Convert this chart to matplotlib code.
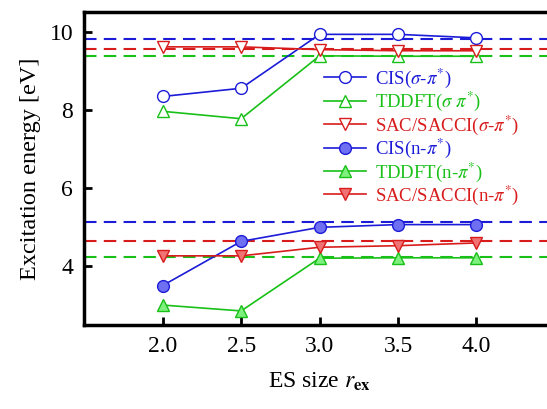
import matplotlib
matplotlib.use("Agg")
import matplotlib.pyplot as plt

plt.rcParams['font.family'] = ['Liberation Serif', 'DejaVu Serif']
plt.rcParams['mathtext.fontset'] = 'stix'

# ES size values
r_ex = [2.0, 2.5, 3.0, 3.5, 4.0]

# sigma-pi* excitations
cis_sigma = [8.35, 8.56, 9.94, 9.94, 9.85]
tddft_sigma = [7.97, 7.78, 9.39, 9.38, 9.38]
sac_sigma = [9.62, 9.62, 9.55, 9.52, 9.52]

# n-pi* excitations
cis_n = [3.51, 4.64, 5.00, 5.07, 5.07]
tddft_n = [3.01, 2.86, 4.21, 4.22, 4.22]
sac_n = [4.27, 4.27, 4.49, 4.53, 4.60]

# reference levels (dashed)
ref_sigma = {"cis": 9.81, "sac": 9.56, "tddft": 9.39}
ref_n = {"cis": 5.14, "sac": 4.65, "tddft": 4.25}

labels = [r"CIS($\sigma$-$\pi^{*}$)", r"TDDFT($\sigma$ $\pi^{*}$)", r"SAC/SACCI($\sigma$-$\pi^{*}$)",
          r"CIS(n-$\pi^{*}$)", r"TDDFT(n-$\pi^{*}$)", r"SAC/SACCI(n-$\pi^{*}$)"]

blue, green, red = "#1c1cd8", "#18c018", "#d81c1c"
blue_f, green_f, red_f = "#6f6ff2", "#7ef07e", "#f07272"

fig = plt.figure(figsize=(5.47, 4.09), dpi=100)
ax = fig.add_axes([0.154, 0.2054, 0.8605, 0.766])

# dashed reference lines
for lv, c in [(ref_sigma["cis"], blue), (ref_sigma["sac"], red), (ref_sigma["tddft"], green),
              (ref_n["cis"], blue), (ref_n["sac"], red), (ref_n["tddft"], green)]:
    ax.axhline(lv, color=c, linestyle=(0, (6, 3.5)), linewidth=1.5, zorder=1)

ms = 8.5
lw = 1.2
ax.plot(r_ex, cis_sigma, color=blue, marker="o", mfc="white", mec=blue, ms=ms, lw=lw, label=labels[0], zorder=3)
ax.plot(r_ex, tddft_sigma, color=green, marker="^", mfc="white", mec=green, ms=ms, lw=lw, label=labels[1], zorder=3)
ax.plot(r_ex, sac_sigma, color=red, marker="v", mfc="white", mec=red, ms=ms, lw=lw, label=labels[2], zorder=3)
ax.plot(r_ex, cis_n, color=blue, marker="o", mfc=blue_f, mec=blue, ms=ms, lw=lw, label=labels[3], zorder=3)
ax.plot(r_ex, tddft_n, color=green, marker="^", mfc=green_f, mec=green, ms=ms, lw=lw, label=labels[4], zorder=3)
ax.plot(r_ex, sac_n, color=red, marker="v", mfc=red_f, mec=red, ms=ms, lw=lw, label=labels[5], zorder=3)

ax.set_xlim(1.5, 4.5)
ax.set_ylim(2.5, 10.52)
ax.set_xticks(r_ex)
ax.set_xticklabels(["2.0", "2.5", "3.0", "3.5", "4.0"])
ax.set_yticks([4, 6, 8, 10])
ax.tick_params(direction="in", length=6, width=2, labelsize=17, top=False, right=False, pad=8)

for s in ax.spines.values():
    s.set_linewidth(2.5)
ax.spines["right"].set_visible(False)

ax.set_ylabel("Excitation energy [eV]", fontsize=17.5, labelpad=6)
ax.set_xlabel(r"ES size $r_{\mathbf{ex}}$", fontsize=17, labelpad=10)

leg = ax.legend(loc="upper left", bbox_to_anchor=(0.51, 0.825), frameon=False, fontsize=13.5,
                handlelength=2.2, handletextpad=0.5, labelspacing=0.0, borderpad=0, borderaxespad=0)
for txt, c in zip(leg.get_texts(), [blue, green, red, blue, green, red]):
    txt.set_color(c)

fig.savefig("out.png", dpi=100)
